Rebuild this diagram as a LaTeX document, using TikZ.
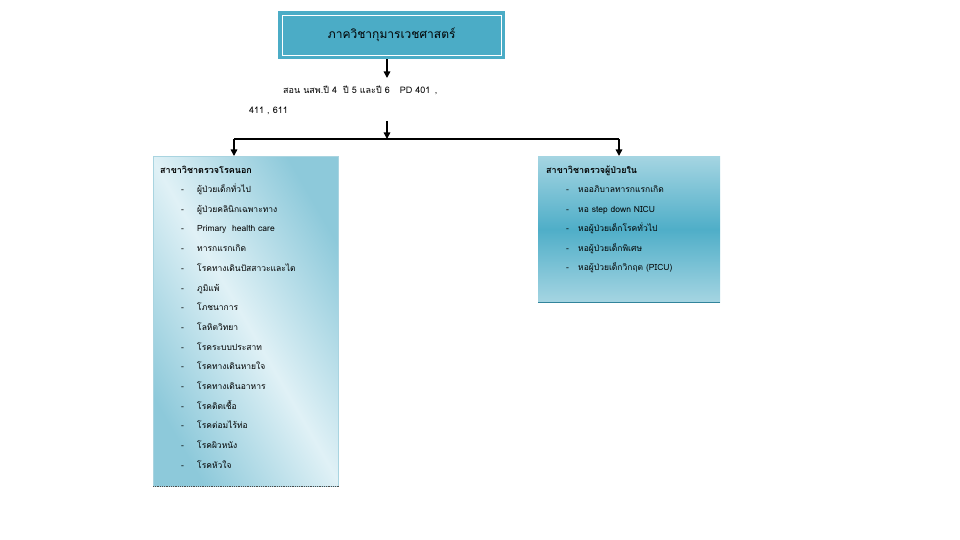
\documentclass[tikz,border=0pt]{standalone}
\usepackage{fontspec}
\setmainfont[Script=Thai]{Loma}
\usetikzlibrary{arrows.meta}
\definecolor{accent}{HTML}{4BACC6}
\definecolor{boxlight}{HTML}{E0F1F6}
\definecolor{boxdark}{HTML}{8DC9DA}
\definecolor{rtop}{HTML}{A5D5E2}
\definecolor{rmid}{HTML}{4FAEC8}
\definecolor{edge}{HTML}{31849B}
\definecolor{faint}{HTML}{A9D4E0}
\tikzset{
  conn/.style={line width=1.5pt, black},
  arr/.style={conn, -{Triangle[width=6.5pt,length=6.5pt]}},
  item/.style={anchor=base west, inner sep=0pt, font=\fontsize{8.5}{10}\selectfont},
  head/.style={anchor=base west, inner sep=0pt, font=\fontsize{9}{11}\selectfont\bfseries},
}
\begin{document}
\begin{tikzpicture}[x=1pt,y=-1pt]
\useasboundingbox (0,0) rectangle (960,540);
% top box
\node[fill=accent, minimum width=227pt, minimum height=48pt, inner sep=0pt, anchor=north west] (top) at (278,11) {};
\node[draw=white, line width=0.9pt, minimum width=219pt, minimum height=40pt, inner sep=0pt, font=\fontsize{12}{14}\selectfont] (toptxt) at (top.center) {ภาควิชากุมารเวชศาสตร์};
% label
\node[anchor=north west, inner sep=0pt, align=left, font=\fontsize{9}{20}\selectfont] (sub) at (249,85.5) {\hspace{34pt}สอน นสพ.ปี 4\hspace{6pt}ปี 5 และปี 6\hspace{10pt}PD 401 \,,\\411 , 611};
% boxes
\node[anchor=north west, minimum width=185pt, minimum height=330pt, inner sep=0pt,
  top color=boxdark, bottom color=boxdark, middle color=boxlight, shading angle=-60, draw=faint, line width=0.6pt] (lbox) at (153,156) {};
\draw[densely dotted, line width=0.8pt, black!70] (lbox.south west) -- (lbox.south east);
\node[anchor=north west, minimum width=182pt, minimum height=146pt, inner sep=0pt,
  top color=rtop, bottom color=rtop, middle color=rmid] (rbox) at (538,156) {};
\draw[edge, line width=1.5pt] (rbox.south west) -- (rbox.south east);
% connectors
\coordinate (t1) at (387,78);
\coordinate (t2) at (387,121);
\coordinate (j) at (387,139);
\coordinate (jl) at (234,139);
\coordinate (jr) at (619,139);
\draw[arr] (top.south -| t1) -- (t1);
\draw[arr] (t2) -- (j);
\draw[conn] (jl) -- (jr);
\draw[arr] (jl) -- (jl |- lbox.north);
\draw[arr] (jr) -- (jr |- rbox.north);
% left list
\node[head] (lh) at (160,173.5) {สาขาวิชาตรวจโรคนอก};
\foreach \t [count=\i] in {ผู้ป่วยเด็กทั่วไป, ผู้ป่วยคลินิกเฉพาะทาง, Primary\ \ health care, ทารกแรกเกิด, โรคทางเดินปัสสาวะและไต, ภูมิแพ้, โภชนาการ, โลหิตวิทยา, โรคระบบประสาท, โรคทางเดินหายใจ, โรคทางเดินอาหาร, โรคติดเชื้อ, โรคต่อมไร้ท่อ, โรคผิวหนัง, โรคหัวใจ}{
  \node[item] (ld\i) at (181,{192.5+19.7*(\i-1)}) {-};
  \node[item] (l\i) at (197,{192.5+19.7*(\i-1)}) {\t};
}
% right list
\node[head] (rh) at (546,173.5) {สาขาวิชาตรวจผู้ป่วยใน};
\foreach \t [count=\i] in {หออภิบาลทารกแรกเกิด, หอ step down NICU, หอผู้ป่วยเด็กโรคทั่วไป, หอผู้ป่วยเด็กพิเศษ, หอผู้ป่วยเด็กวิกฤต (PICU)}{
  \node[item] (rd\i) at (566,{192.5+19.5*(\i-1)}) {-};
  \node[item] (r\i) at (578,{192.5+19.5*(\i-1)}) {\t};
}
\end{tikzpicture}
\end{document}
